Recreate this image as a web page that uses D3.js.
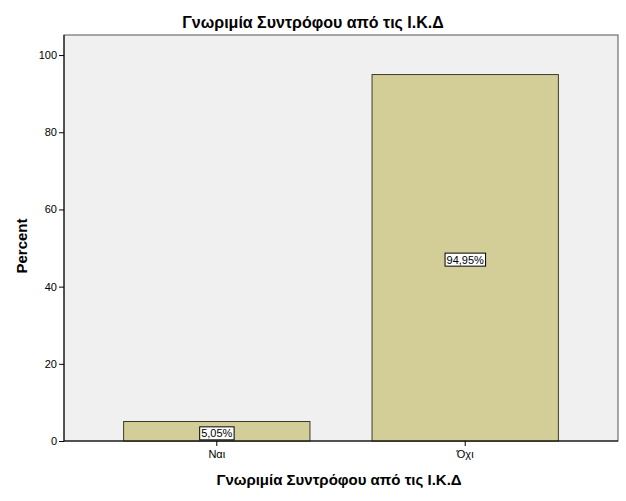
<!DOCTYPE html>
<html>
<head>
<meta charset="utf-8">
<script src="https://cdn.jsdelivr.net/npm/d3@7"></script>
<style>
  body { margin: 0; background: #fff; }
  text { font-family: "Liberation Sans", Arial, sans-serif; fill: #000; }
  .axis path, .axis line { stroke: #000; }
</style>
</head>
<body>
<svg id="chart"></svg>
<script>
// chart data
const categories = ["Ναι", "Όχι"];
const percents = [5.05, 94.95];
const barLabels = ["5,05%", "94,95%"];
const yTicks = [0, 20, 40, 60, 80, 100];
const chartTitle = "Γνωριμία Συντρόφου από τις Ι.Κ.Δ";
const xTitle = "Γνωριμία Συντρόφου από τις Ι.Κ.Δ";
const yTitle = "Percent";

const width = 626, height = 501;
const margin = {top: 35, right: 8, bottom: 60, left: 64};
const innerW = width - margin.left - margin.right;
const innerH = height - margin.top - margin.bottom;

const svg = d3.select('#chart')
    .attr('width', width)
    .attr('height', height);

const chart = svg.append('g')
    .attr('transform', `translate(${margin.left},${margin.top})`);

const xScale = d3.scaleBand()
    .domain(categories)
    .range([0, innerW])
    .paddingInner(0.25)
    .paddingOuter(0.24);

const yScale = d3.scaleLinear()
    .domain([0, 105.2])
    .range([innerH, 0]);

// plot background
chart.append('rect')
    .attr('width', innerW)
    .attr('height', innerH)
    .attr('fill', '#f0f0f0')
    .attr('stroke', '#555')
    .attr('stroke-width', 1);

// bars
chart.selectAll('.bar')
    .data(percents)
  .join('rect')
    .attr('class', 'bar')
    .attr('x', (d, i) => xScale(categories[i]))
    .attr('y', d => yScale(d))
    .attr('width', xScale.bandwidth())
    .attr('height', d => innerH - yScale(d))
    .attr('fill', '#d3ce97')
    .attr('stroke', '#3a3a2a')
    .attr('stroke-width', 1);

// value labels in boxes
const lab = chart.selectAll('.lab')
    .data(percents)
  .join('g')
    .attr('class', 'lab')
    .attr('transform', (d, i) => {
      const cx = xScale(categories[i]) + xScale.bandwidth() / 2;
      let cy = (yScale(d) + innerH) / 2;
      if (i === 0) cy = innerH - 7.5;
      else cy += 2;
      return `translate(${cx},${cy})`;
    });

lab.append('text')
    .attr('text-anchor', 'middle')
    .attr('dy', '0.35em')
    .attr('font-size', 11)
    .text((d, i) => barLabels[i]);

lab.each(function() {
  const g = d3.select(this);
  const bb = g.select('text').node().getBBox();
  g.insert('rect', 'text')
      .attr('x', bb.x - 1.5)
      .attr('y', bb.y - 0.5)
      .attr('width', bb.width + 3)
      .attr('height', bb.height + 1)
      .attr('fill', '#fff')
      .attr('stroke', '#000')
      .attr('stroke-width', 1);
});

// axes
const yAxis = d3.axisLeft(yScale)
    .tickValues(yTicks)
    .tickSize(5)
    .tickSizeOuter(0)
    .tickPadding(2);

const xAxis = d3.axisBottom(xScale)
    .tickSize(5)
    .tickSizeOuter(0)
    .tickPadding(4);

const yAxisG = chart.append('g')
    .attr('class', 'axis')
    .call(yAxis);
yAxisG.select('.domain').remove();
yAxisG.selectAll('text').attr('font-size', 11).attr('fill', '#000');

const xAxisG = chart.append('g')
    .attr('class', 'axis')
    .attr('transform', `translate(0,${innerH})`)
    .call(xAxis);
xAxisG.select('.domain').remove();
xAxisG.selectAll('text').attr('font-size', 11).attr('fill', '#000');

// axis base lines
chart.append('line')
    .attr('x1', 0).attr('x2', innerW)
    .attr('y1', innerH).attr('y2', innerH)
    .attr('stroke', '#000');
chart.append('line')
    .attr('x1', 0).attr('x2', 0)
    .attr('y1', 0).attr('y2', innerH)
    .attr('stroke', '#000');

// titles
svg.append('text')
    .attr('x', 313)
    .attr('y', 28)
    .attr('text-anchor', 'middle')
    .attr('font-size', 16)
    .attr('font-weight', 'bold')
    .text(chartTitle);

svg.append('text')
    .attr('x', margin.left + innerW / 2 - 2)
    .attr('y', 485)
    .attr('text-anchor', 'middle')
    .attr('font-size', 15)
    .attr('font-weight', 'bold')
    .text(xTitle);

svg.append('text')
    .attr('transform', `translate(27,${margin.top + innerH / 2 + 8}) rotate(-90)`)
    .attr('text-anchor', 'middle')
    .attr('font-size', 15)
    .attr('font-weight', 'bold')
    .text(yTitle);
</script>
</body>
</html>
